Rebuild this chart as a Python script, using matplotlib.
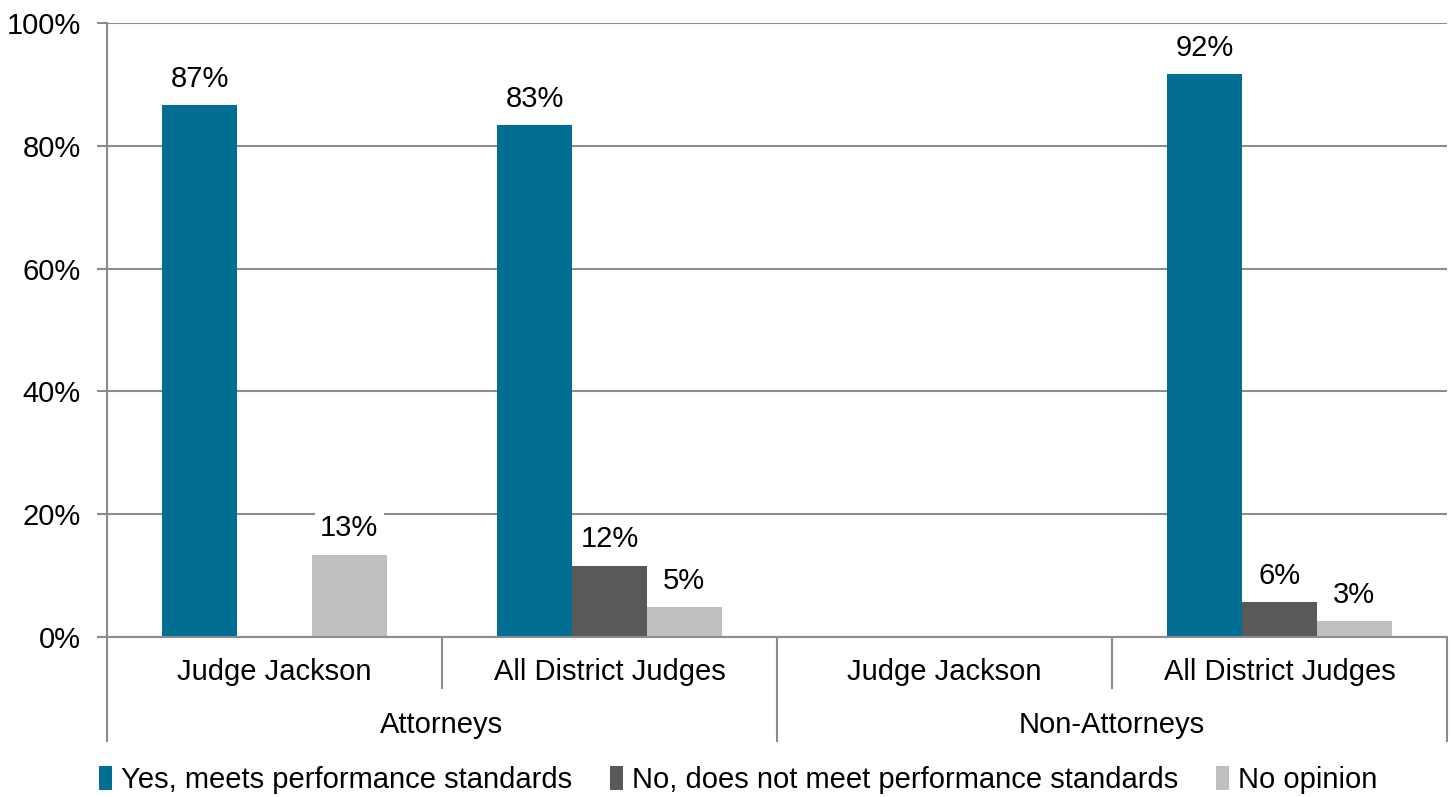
import numpy as np
import matplotlib
matplotlib.use("Agg")
import matplotlib.pyplot as plt
from matplotlib.patches import Patch

plt.rcParams["font.family"] = ["Liberation Sans", "DejaVu Sans"]

# data
subgroups = ["Judge Jackson", "All District Judges", "Judge Jackson", "All District Judges"]
groups = ["Attorneys", "Non-Attorneys"]
series_names = [
    "Yes, meets performance standards",
    "No, does not meet performance standards",
    "No opinion",
]
yes_vals = [86.6, 83.4, None, 91.7]
no_vals = [None, 11.6, None, 5.7]
noop_vals = [13.4, 4.9, None, 2.6]
colors = ["#036E94", "#595959", "#BFBFBF"]

W, H = 1453, 797
fig = plt.figure(figsize=(W / 100, H / 100), dpi=100)
ax = fig.add_axes([107 / W, (H - 637) / H, 1340 / W, 614 / H])

grid_c = "#8C8C8C"
fs = 21
bw = 0.223
x = np.arange(len(subgroups))

for k, vals in enumerate([yes_vals, no_vals, noop_vals]):
    for i, v in enumerate(vals):
        if v is None:
            continue
        xi = x[i] + (k - 1) * bw
        ax.bar(xi, v, width=bw, color=colors[k], zorder=3)
        ax.text(xi, v + 4.3, f"{v:.0f}%", ha="center", va="center", fontsize=fs,
                zorder=4,
                bbox=dict(facecolor="white", edgecolor="none", pad=4))

ax.set_xlim(-0.5, len(subgroups) - 0.5)
ax.set_ylim(0, 100)
ax.set_yticks(range(0, 101, 20))
ax.set_yticklabels([f"{t}%" for t in range(0, 101, 20)], fontsize=fs)
ax.yaxis.grid(True, color=grid_c, linewidth=1.5, zorder=0)
ax.tick_params(axis="y", length=7, width=1.5, color=grid_c, pad=12)
ax.set_xticks([])

for s in ["top", "right"]:
    ax.spines[s].set_visible(False)
for s in ["left", "bottom"]:
    ax.spines[s].set_color(grid_c)
    ax.spines[s].set_linewidth(1.5)
    ax.spines[s].set_zorder(5)

# category separators below the axis
trans = ax.get_xaxis_transform()
for xb in [-0.5, 1.5, 3.5]:
    ax.plot([xb, xb], [0, -0.169], color=grid_c, lw=1.5, transform=trans, clip_on=False)
for xb in [0.5, 2.5]:
    ax.plot([xb, xb], [0, -0.083], color=grid_c, lw=1.5, transform=trans, clip_on=False)

for i, lab in enumerate(subgroups):
    ax.text(x[i], -0.057, lab, ha="center", va="center", fontsize=fs, transform=trans)
for j, g in enumerate(groups):
    ax.text(2 * j + 0.5, -0.143, g, ha="center", va="center", fontsize=fs, transform=trans)

handles = [Patch(facecolor=c, edgecolor="none") for c in colors]
fig.legend(handles, series_names, loc="center", bbox_to_anchor=(0.508, 1 - 780 / H),
           ncol=3, frameon=False, fontsize=fs, handlelength=0.45, handleheight=0.9,
           handletextpad=0.3, columnspacing=1.3)

fig.savefig("out.png", dpi=100)
